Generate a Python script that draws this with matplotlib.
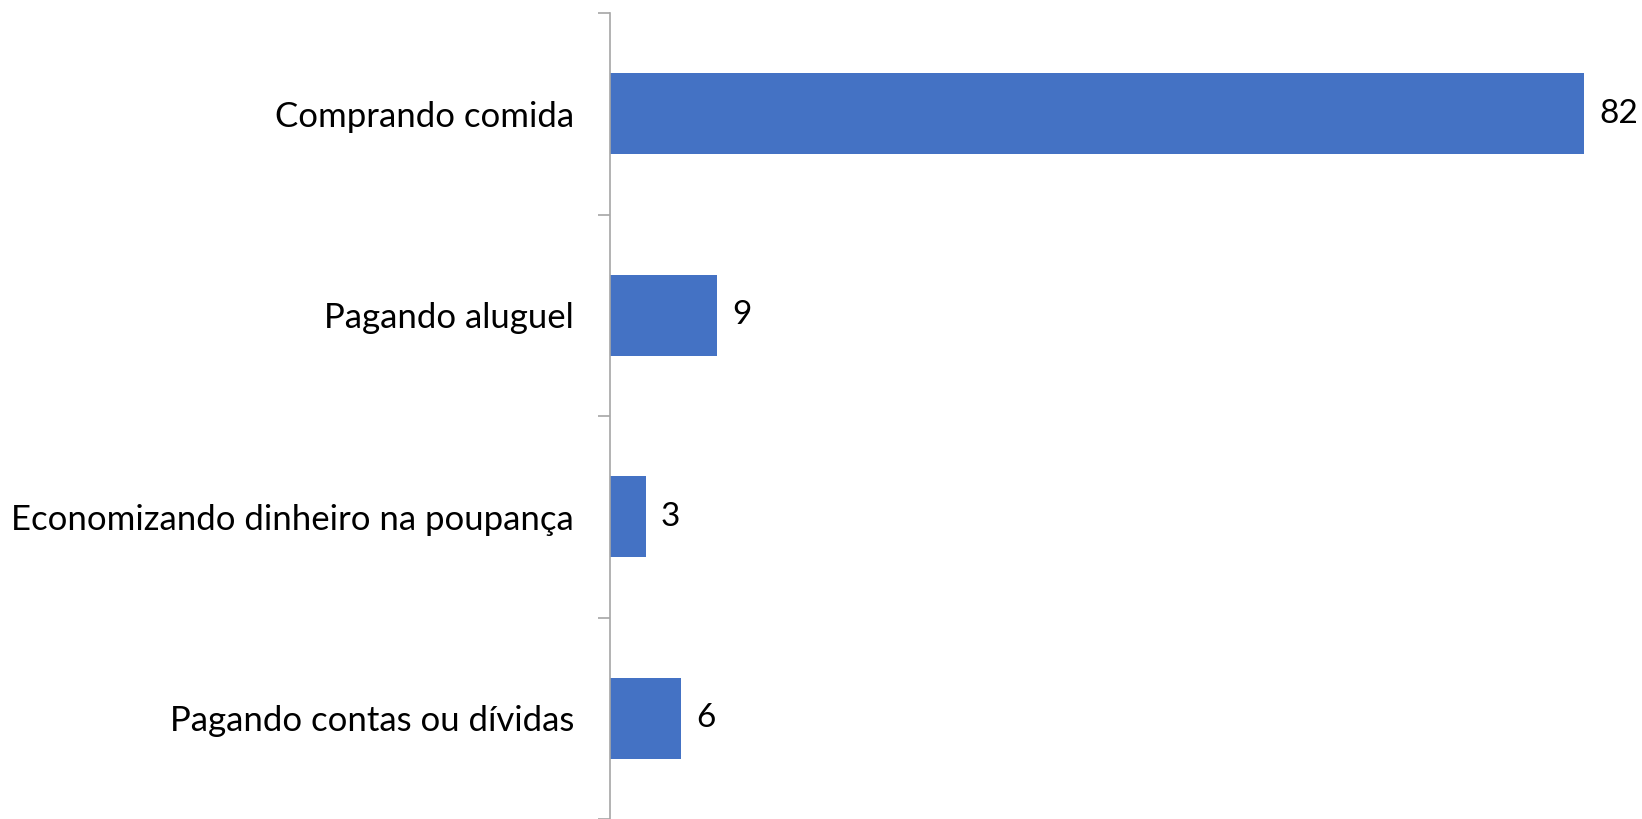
import matplotlib
matplotlib.use("Agg")
import matplotlib.pyplot as plt

categories = ["Comprando comida", "Pagando aluguel",
              "Economizando dinheiro na poupança", "Pagando contas ou dívidas"]
values = [82, 9, 3, 6]

plt.rcParams['font.family'] = ['Lato', 'DejaVu Sans']

fig = plt.figure(figsize=(16.42, 8.19), dpi=100)
W, H = 1642, 819
ax = fig.add_axes([610 / W, 0, 1031 / W, (819 - 13) / H])

ypos = list(range(len(categories)))
ax.barh(ypos, values, height=0.4, color="#4472C4")
ax.set_ylim(len(categories) - 0.5, -0.5)
ax.set_xlim(0, 86.8)

for y, v in zip(ypos, values):
    ax.text(v + 1.3, y, str(v), va="center", ha="left", fontsize=24, color="black")

ax.set_yticks([i - 0.5 for i in range(len(categories) + 1)], minor=False)
ax.set_yticklabels([])
ax.set_yticks(ypos, minor=True)
ax.set_yticklabels(categories, minor=True, fontsize=25)
ax.tick_params(axis="y", which="major", length=8.6, width=1.2, color="#A6A6A6")
ax.tick_params(axis="y", which="minor", length=0, pad=26)
ax.set_xticks([])
for s in ["top", "right", "bottom"]:
    ax.spines[s].set_visible(False)
ax.spines["left"].set_color("#A6A6A6")
ax.spines["left"].set_linewidth(1.2)

fig.savefig("out.png", dpi=100)
